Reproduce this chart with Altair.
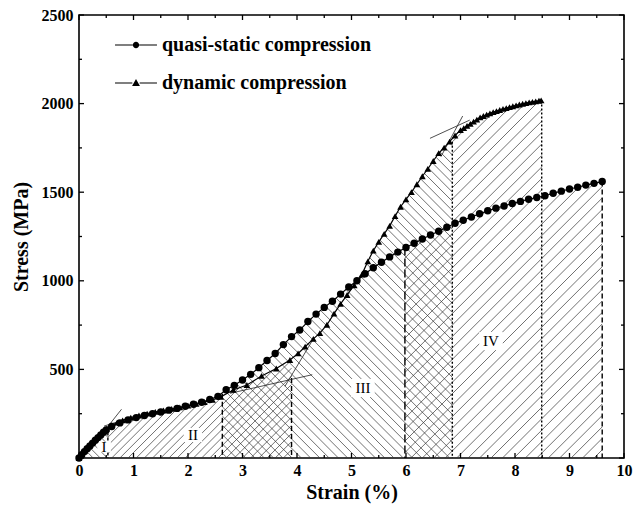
import altair as alt
import numpy as np
import pandas as pd

Q_NAME = "quasi-static compression"
D_NAME = "dynamic compression"

# quasi-static curve (strain %, stress MPa)
q_strain = [0, 0.05, 0.1, 0.15, 0.2, 0.25, 0.3, 0.35, 0.4, 0.45, 0.5,
            0.6, 0.75, 0.9, 1.05, 1.2, 1.35, 1.5, 1.65, 1.8, 1.95, 2.1, 2.25, 2.4, 2.55,
            2.7, 2.85, 3.0, 3.15, 3.3, 3.45, 3.6, 3.75, 3.9, 4.05, 4.2, 4.35, 4.5, 4.65,
            4.8, 4.95, 5.1, 5.25, 5.4, 5.55, 5.7, 5.85, 6.0, 6.15, 6.3, 6.45, 6.6, 6.75,
            6.9, 7.05, 7.2, 7.35, 7.5, 7.65, 7.8, 7.95, 8.1, 8.25, 8.4, 8.55, 8.7, 8.85,
            9.0, 9.15, 9.3, 9.45, 9.6]
q_stress = [0, 18, 36, 52, 68, 84, 100, 115, 130, 145, 158,
            178, 198, 215, 228, 240, 250, 260, 270, 280, 292, 303, 315, 330, 348,
            385, 410, 440, 472, 510, 550, 590, 640, 685, 722, 770, 812, 850, 885,
            925, 965, 1000, 1040, 1074, 1105, 1135, 1162, 1188, 1212, 1236, 1258, 1280, 1302,
            1325, 1342, 1360, 1378, 1395, 1410, 1422, 1436, 1448, 1460, 1470, 1480, 1494, 1506,
            1518, 1528, 1540, 1550, 1560]

# dynamic curve
d_strain = [0, 0.05, 0.1, 0.15, 0.2, 0.25, 0.3, 0.35, 0.4, 0.45, 0.5,
            0.6, 0.7, 0.8, 0.95, 1.1, 1.25, 1.4, 1.55, 1.7, 1.85, 2.0, 2.15, 2.3, 2.45, 2.6,
            2.83, 3.08, 3.35, 3.62, 3.87, 4.02, 4.15, 4.3, 4.42, 4.55, 4.68, 4.8, 4.92, 5.05, 5.19,
            5.3, 5.4, 5.5, 5.6, 5.7, 5.8, 5.9, 6.0, 6.1, 6.2, 6.3, 6.4, 6.5, 6.6, 6.7, 6.8, 6.9, 7.0,
            7.06, 7.12, 7.18, 7.24, 7.3, 7.36, 7.42, 7.48, 7.54, 7.6, 7.66, 7.72, 7.78, 7.84,
            7.9, 7.96, 8.02, 8.08, 8.14, 8.2, 8.26, 8.32, 8.38, 8.44, 8.48]
d_stress = [0, 20, 40, 58, 76, 92, 108, 122, 136, 150, 165,
            185, 200, 212, 228, 240, 250, 260, 268, 277, 286, 296, 305, 316, 328, 345,
            384, 412, 463, 505, 553, 590, 628, 672, 705, 752, 815, 870, 920, 975, 1035,
            1110, 1170, 1220, 1265, 1310, 1365, 1418, 1460, 1500, 1545, 1590, 1632, 1676, 1720, 1752, 1785, 1820, 1850,
            1862, 1874, 1886, 1898, 1910, 1922, 1930, 1938, 1945, 1952, 1958, 1964, 1970, 1975,
            1980, 1985, 1990, 1995, 1999, 2003, 2007, 2010, 2013, 2016, 2018]

# stage boundaries (vertical lines)
bound_x = [0.53, 2.63, 3.9, 5.98, 6.85, 8.49, 9.6]
bound_top = [172, 362, 452, 1188, 1785, 2018, 1560]
bound_style = ["fine", "dash", "dash", "long", "dot", "dot", "dash"]

# tangent construction lines
tan_x1 = [0.42, 0.46, 2.77, 3.78, 6.44, 6.64]
tan_y1 = [135, 180, 365, 405, 1804, 1700]
tan_x2 = [0.78, 0.97, 4.28, 4.30, 7.17, 7.04]
tan_y2 = [275, 230, 470, 672, 1907, 1930]

# stage labels
stage_text = ["I", "II", "III", "IV"]
stage_x = [0.46, 2.09, 5.21, 7.56]
stage_y = [62, 130, 395, 660]
stage_box = [110, 200, 330, 330]

x_major = list(range(0, 11))
x_minor = [v + 0.5 for v in range(0, 10)]
y_major = [0, 500, 1000, 1500, 2000, 2500]
y_minor = [250, 750, 1250, 1750, 2250]

W, H = 545, 443
FONT = "Liberation Serif"

# ---------- hatch construction (clipped diagonal lines) ----------
K = (W / 10) / (H / 2500)  # stress units per strain unit for a 45 degree line


def qf(x):
    return np.interp(x, q_strain, q_stress)


def dfun(x):
    return np.interp(x, d_strain, d_stress)


def hatch(x0, x1, top, sign, spacing):
    xs = np.linspace(x0, x1, 2000)
    tops = top(xs)
    ymax = tops.max()
    if sign > 0:
        n0 = int(np.floor((x0 - ymax / K) / spacing)) - 1
        n1 = int(np.ceil(x1 / spacing)) + 1
    else:
        n0 = int(np.floor(x0 / spacing)) - 1
        n1 = int(np.ceil((x1 + ymax / K) / spacing)) + 1
    rows = []
    for n in range(n0, n1 + 1):
        a = n * spacing
        yl = sign * K * (xs - a)
        inside = (yl >= 0) & (yl <= tops)
        idx = np.flatnonzero(inside)
        if idx.size < 2:
            continue
        br = np.flatnonzero(np.diff(idx) > 1)
        starts = np.r_[idx[0], idx[br + 1]]
        ends = np.r_[idx[br], idx[-1]]
        for s, e in zip(starts, ends):
            if e > s:
                rows.append((xs[s], yl[s], xs[e], yl[e]))
    return rows


b = bound_x
segs = []
segs += hatch(0, b[0], qf, -1, 0.13)
segs += hatch(b[0], b[2], lambda x: np.minimum(qf(x), dfun(x)), 1, 0.15)
segs += hatch(b[1], b[4], lambda x: np.maximum(np.where(x <= b[3], qf(x), 0),
                                               np.where(x >= b[2], dfun(x), 0)), -1, 0.17)
segs += hatch(b[3], b[6], lambda x: np.maximum(qf(x), np.where((x >= b[4]) & (x <= b[5]), dfun(x), 0)), 1, 0.21)
hatch_df = pd.DataFrame(segs, columns=["x", "y", "x2", "y2"])

# ---------- tables ----------
curves = pd.concat([
    pd.DataFrame({"strain": q_strain, "stress": q_stress, "series": Q_NAME}),
    pd.DataFrame({"strain": d_strain, "stress": d_stress, "series": D_NAME}),
])
curves["kind"] = curves["series"]
bounds = pd.DataFrame({"x": bound_x, "top": bound_top, "style": bound_style})
tangents = pd.DataFrame({"x": tan_x1, "y": tan_y1, "x2": tan_x2, "y2": tan_y2})
labels = pd.DataFrame({"x": stage_x, "y": stage_y, "t": stage_text, "s": stage_box})

xscale = alt.Scale(domain=[0, 10], nice=False)
yscale = alt.Scale(domain=[0, 2500], nice=False)
xaxis = alt.Axis(values=x_major, title="Strain (%)", ticks=False, domain=False, grid=False,
                 labelFlush=False,
                 labelFont=FONT, labelFontWeight="bold", labelFontSize=16, labelColor="black",
                 labelPadding=4, titleFont=FONT, titleFontWeight="bold", titleFontSize=20,
                 titleColor="black", titlePadding=4)
yaxis = alt.Axis(values=y_major, title="Stress (MPa)", ticks=False, domain=False, grid=False,
                 labelFlush=False,
                 labelExpr="datum.value == 0 ? '' : datum.label", format="d",
                 labelFont=FONT, labelFontWeight="bold", labelFontSize=16, labelColor="black",
                 labelPadding=6, titleFont=FONT, titleFontWeight="bold", titleFontSize=20,
                 titleColor="black", titlePadding=10)


def X(f):
    return alt.X(f, type="quantitative", scale=xscale, axis=xaxis)


def Y(f):
    return alt.Y(f, type="quantitative", scale=yscale, axis=yaxis)


hatch_layer = alt.Chart(hatch_df).mark_rule(color="#333333", strokeWidth=0.7).encode(
    x=X("x"), y=Y("y"), x2="x2", y2="y2")

bound_layer = alt.Chart(bounds).mark_rule(color="black", strokeWidth=1.4).encode(
    x=X("x"), y=Y("top"), y2=alt.datum(0),
    strokeDash=alt.StrokeDash("style:N", scale=alt.Scale(domain=["fine", "dash", "long", "dot"],
                                                         range=[[3, 2], [5, 3], [8, 3], [2, 2]]),
                              legend=None))

tan_layer = alt.Chart(tangents).mark_rule(color="#222222", strokeWidth=0.8).encode(
    x=X("x"), y=Y("y"), x2="x2", y2="y2")

box_layer = alt.Chart(labels).mark_point(filled=True, color="white", opacity=1,
                                         shape="M-1.3,-1H1.3V1H-1.3Z").encode(
    x=X("x"), y=Y("y"), size=alt.Size("s:Q", scale=None, legend=None))

text_layer = alt.Chart(labels).mark_text(font=FONT, fontSize=15, color="black").encode(
    x=X("x"), y=Y("y"), text="t:N")

line_layer = alt.Chart(curves).mark_line(color="black", strokeWidth=1.2).encode(
    x=X("strain"), y=Y("stress"), detail="series:N")

point_layer = alt.Chart(curves).mark_point(filled=True, color="black", opacity=1).encode(
    x=X("strain"), y=Y("stress"),
    size=alt.Size("series:N", scale=alt.Scale(domain=[Q_NAME, D_NAME], range=[55, 45]), legend=None),
    shape=alt.Shape("series:N",
                    scale=alt.Scale(domain=[Q_NAME, D_NAME], range=["circle", "triangle-up"]),
                    legend=None))

# legend-only layer: invisible marks, legend symbols = line (thin filled bars) with marker
legend_paths = ["M-4,-0.1H-0.6V0.1H-4ZM0.6,-0.1H4V0.1H0.6Z"
                "M-0.6,0A0.6,0.6 0 1,0 0.6,0A0.6,0.6 0 1,0 -0.6,0Z",
                "M-4,-0.1H-0.7V0.1H-4ZM0.7,-0.1H4V0.1H0.7Z"
                "M0,-0.75L0.75,0.55L-0.75,0.55Z"]
legend_layer = alt.Chart(curves).mark_point(filled=True, color="black", opacity=0).encode(
    x=X("strain"), y=Y("stress"),
    shape=alt.Shape("kind:N",
                    scale=alt.Scale(domain=[Q_NAME, D_NAME], range=legend_paths),
                    legend=alt.Legend(title=None, orient="none", legendX=47, legendY=20,
                                      symbolSize=110, symbolOpacity=1,
                                      symbolFillColor="black", symbolStrokeColor="black",
                                      symbolStrokeWidth=0.5,
                                      labelFont=FONT, labelFontWeight="bold", labelLimit=400,
                                      labelFontSize=20, labelColor="black", labelOffset=16,
                                      rowPadding=18, padding=0)))

xt_major = pd.DataFrame({"v": x_major})
xt_minor = pd.DataFrame({"v": x_minor})
yt_major = pd.DataFrame({"v": y_major})
yt_minor = pd.DataFrame({"v": y_minor})


def xticks(df, length):
    bot = alt.Chart(df).mark_rule(color="black", strokeWidth=1.3).encode(
        x=X("v"), y=alt.value(H), y2=alt.value(H - length))
    top = alt.Chart(df).mark_rule(color="black", strokeWidth=1.3).encode(
        x=X("v"), y=alt.value(0), y2=alt.value(length))
    return [bot, top]


def yticks(df, length):
    left = alt.Chart(df).mark_rule(color="black", strokeWidth=1.3).encode(
        y=Y("v"), x=alt.value(0), x2=alt.value(length))
    right = alt.Chart(df).mark_rule(color="black", strokeWidth=1.3).encode(
        y=Y("v"), x=alt.value(W), x2=alt.value(W - length))
    return [left, right]


tick_layers = xticks(xt_major, 5) + xticks(xt_minor, 3) + yticks(yt_major, 5) + yticks(yt_minor, 3)

chart = alt.layer(hatch_layer, bound_layer, tan_layer, box_layer, text_layer,
                  line_layer, point_layer, legend_layer, *tick_layers).resolve_scale(
    shape="independent").properties(
    width=W, height=H,
    autosize=alt.AutoSizeParams(type="none"),
    padding={"left": 79, "top": 15, "right": 9, "bottom": 52},
    background="white",
).configure_view(stroke="black", strokeWidth=1.6)

chart.save("out.html", embed_options={"renderer": "svg", "actions": False})
